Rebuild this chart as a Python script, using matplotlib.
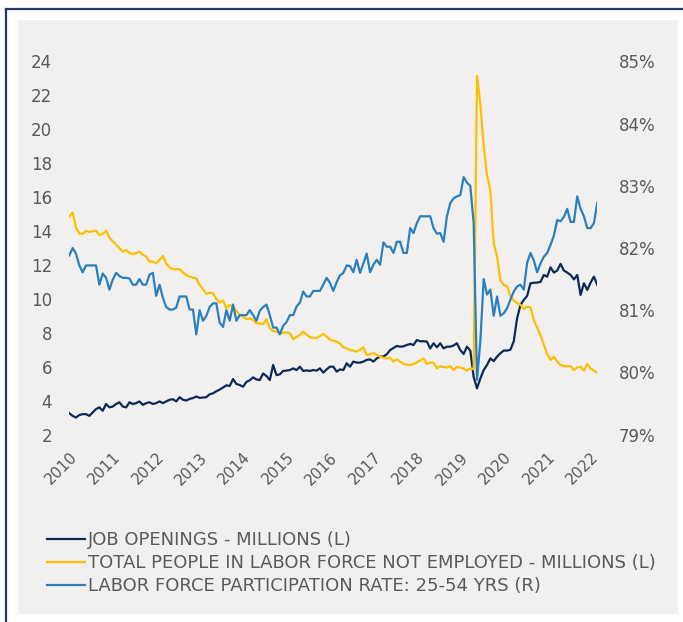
import numpy as np
import matplotlib
matplotlib.use("Agg")
import matplotlib.pyplot as plt
from matplotlib.patches import Rectangle
from matplotlib.lines import Line2D
import matplotlib.transforms as mtransforms

# monthly series, Jan 2010 onwards
job_openings = [
    3.25, 3.10, 3.00, 3.15, 3.20, 3.20, 3.10, 3.30, 3.50, 3.60, 3.40, 3.80, 3.60, 3.65, 3.80, 3.90,
    3.65, 3.60, 3.90, 3.80, 3.85, 3.95, 3.75, 3.85, 3.90, 3.80, 3.85, 3.95, 3.85, 3.95, 4.05, 4.08,
    3.95, 4.20, 4.05, 4.00, 4.10, 4.15, 4.24, 4.16, 4.18, 4.20, 4.37, 4.43, 4.55, 4.65, 4.77, 4.90,
    4.86, 5.27, 4.98, 4.92, 4.82, 5.10, 5.20, 5.37, 5.25, 5.21, 5.60, 5.45, 5.21, 6.10, 5.50, 5.55,
    5.75, 5.77, 5.80, 5.90, 5.80, 6.00, 5.75, 5.78, 5.75, 5.80, 5.77, 5.90, 5.65, 5.84, 6.00, 6.00,
    5.71, 5.84, 5.80, 6.20, 6.00, 6.30, 6.24, 6.24, 6.30, 6.40, 6.43, 6.30, 6.49, 6.59, 6.60, 6.73,
    6.98, 7.10, 7.22, 7.18, 7.20, 7.28, 7.34, 7.28, 7.57, 7.50, 7.50, 7.48, 7.08, 7.38, 7.14, 7.38,
    7.08, 7.18, 7.18, 7.25, 7.38, 6.98, 6.75, 7.18, 6.95, 5.40, 4.72, 5.30, 5.80, 6.10, 6.49, 6.33,
    6.59, 6.79, 6.95, 6.95, 7.00, 7.50, 8.85, 9.64, 9.94, 10.17, 10.92, 10.95, 10.96, 11.00, 11.41, 11.31,
    11.86, 11.55, 11.67, 12.06, 11.67, 11.55, 11.41, 11.15, 11.41, 10.23, 10.92, 10.53, 10.96, 11.31, 10.82,
]

not_employed = [
    14.85, 15.10, 14.20, 13.85, 13.83, 14.00, 13.95, 13.98, 14.02, 13.77, 13.83, 14.02, 13.60, 13.40, 13.20, 13.00,
    12.78, 12.88, 12.70, 12.65, 12.70, 12.78, 12.60, 12.49, 12.19, 12.19, 12.10, 12.29, 12.53, 12.10, 11.85, 11.75,
    11.75, 11.75, 11.55, 11.40, 11.31, 11.25, 11.21, 10.82, 10.55, 10.29, 10.37, 10.33, 10.00, 9.78, 9.90, 9.44,
    9.64, 9.54, 9.30, 9.05, 8.95, 8.80, 8.86, 8.75, 8.56, 8.55, 8.52, 8.80, 8.27, 8.10, 8.07, 7.97,
    8.00, 8.02, 7.97, 7.62, 7.75, 7.87, 8.07, 7.90, 7.74, 7.70, 7.68, 7.80, 7.93, 7.78, 7.60, 7.53,
    7.47, 7.37, 7.14, 7.08, 6.99, 6.95, 6.89, 7.00, 7.14, 6.69, 6.75, 6.79, 6.70, 6.59, 6.52, 6.49,
    6.53, 6.30, 6.43, 6.30, 6.16, 6.12, 6.10, 6.16, 6.25, 6.36, 6.49, 6.16, 6.24, 6.24, 5.90, 6.03,
    5.98, 5.95, 6.03, 5.80, 5.99, 5.95, 5.90, 5.76, 5.90, 5.85, 23.15, 21.50, 19.00, 17.30, 16.40, 13.30,
    12.50, 11.10, 10.82, 10.76, 10.15, 9.90, 9.75, 9.65, 9.40, 9.55, 9.50, 8.75, 8.30, 7.85, 7.30, 6.75,
    6.40, 6.59, 6.30, 6.10, 6.03, 6.03, 6.03, 5.80, 5.95, 6.00, 5.76, 6.16, 5.90, 5.75, 5.65,
]

participation = [
    81.88, 82.00, 81.91, 81.72, 81.61, 81.72, 81.72, 81.72, 81.72, 81.41, 81.59, 81.52, 81.33, 81.49, 81.60, 81.55,
    81.52, 81.52, 81.51, 81.41, 81.41, 81.50, 81.41, 81.41, 81.57, 81.60, 81.23, 81.41, 81.20, 81.05, 81.01, 81.01,
    81.04, 81.22, 81.22, 81.22, 81.01, 81.01, 80.61, 81.00, 80.83, 80.91, 81.05, 81.11, 81.11, 80.80, 80.73, 81.00,
    80.83, 81.09, 80.83, 80.92, 80.92, 80.92, 81.00, 80.92, 80.83, 80.99, 81.05, 81.09, 80.92, 80.72, 80.72, 80.61,
    80.75, 80.81, 80.92, 80.92, 81.06, 81.12, 81.30, 81.22, 81.22, 81.31, 81.31, 81.31, 81.41, 81.52, 81.44, 81.31,
    81.45, 81.56, 81.60, 81.72, 81.71, 81.61, 81.81, 81.60, 81.75, 81.91, 81.61, 81.73, 81.81, 81.73, 82.09, 82.02,
    82.02, 81.92, 82.10, 82.10, 81.92, 81.92, 82.32, 82.24, 82.40, 82.51, 82.51, 82.51, 82.51, 82.32, 82.23, 82.24,
    82.10, 82.51, 82.72, 82.80, 82.83, 82.85, 83.14, 83.05, 83.00, 82.40, 79.88, 80.50, 81.50, 81.25, 81.33, 80.91,
    81.22, 80.91, 80.95, 81.03, 81.17, 81.30, 81.38, 81.41, 81.33, 81.76, 81.92, 81.80, 81.61, 81.75, 81.86, 81.92,
    82.05, 82.20, 82.45, 82.43, 82.50, 82.63, 82.42, 82.42, 82.83, 82.63, 82.51, 82.32, 82.32, 82.40, 82.73,
]

year_labels = [str(y) for y in range(2010, 2023)]
left_ticks = list(range(2, 25, 2))
right_ticks = list(range(79, 86))

labels = [
    "JOB OPENINGS - MILLIONS (L)",
    "TOTAL PEOPLE IN LABOR FORCE NOT EMPLOYED - MILLIONS (L)",
    "LABOR FORCE PARTICIPATION RATE: 25-54 YRS (R)",
]

NAVY = "#0c2a58"
GOLD = "#ffbf00"
BLUE = "#2a80bf"
GREY_TXT = "#5a5a5a"
BG = "#f1f0ef"

plt.rcParams["font.family"] = ["DejaVu Sans"]

W, H = 683, 622
fig = plt.figure(figsize=(W / 100, H / 100), dpi=100)
fig.patch.set_facecolor("white")

# grey panel and the navy frame
fig.patches.append(Rectangle((18 / W, 1 - 614 / H), 660 / W, 594 / H,
                             transform=fig.transFigure, facecolor=BG, edgecolor="none", zorder=-5))
fig.lines.append(Line2D([6 / W, 6 / W], [0, 1 - 9 / H], transform=fig.transFigure,
                        color="#1d3a68", lw=1.6, zorder=-5))
fig.lines.append(Line2D([6 / W, 1], [1 - 9 / H, 1 - 9 / H], transform=fig.transFigure,
                        color="#1d3a68", lw=1.6, zorder=-5))

x = np.arange(len(job_openings))
ax = fig.add_axes([69.3 / W, 1 - 434.5 / H, 528 / W, 373 / H])
ax.set_facecolor("none")
ax2 = ax.twinx()

l1, = ax.plot(x, job_openings, color=NAVY, lw=1.6)
l2, = ax.plot(x, not_employed, color=GOLD, lw=1.6)
l3, = ax2.plot(x, participation, color=BLUE, lw=1.6)

ax.set_xlim(0, len(x) - 1)
ax.set_ylim(2, 24)
ax2.set_ylim(79, 85)
ax.set_yticks(left_ticks)
ax2.set_yticks(right_ticks)
ax2.set_yticklabels([f"{v}%" for v in right_ticks])

tick_idx = np.arange(0, 13 * len(year_labels), 13)
ax.set_xticks(tick_idx)
ax.set_xticklabels(year_labels, rotation=45, ha="right", va="top", rotation_mode="anchor",
                   fontsize=11)
shift = mtransforms.ScaledTranslation(3 / 100, 0, fig.dpi_scale_trans)
for t in ax.get_xticklabels():
    t.set_transform(t.get_transform() + shift)

for a in (ax, ax2):
    for s in a.spines.values():
        s.set_visible(False)
    a.tick_params(length=0, colors=GREY_TXT)
ax.tick_params(axis="y", pad=12.5, labelsize=12)
ax2.tick_params(axis="y", pad=15.5, labelsize=12)
ax.tick_params(axis="x", pad=11)

fig.legend([l1, l2, l3], labels, loc="upper left", bbox_to_anchor=(47 / W, 1 - 531 / H),
           frameon=False, fontsize=13, labelcolor=GREY_TXT, handlelength=2.1,
           handletextpad=0.15, labelspacing=0.28, borderaxespad=0, borderpad=0)

fig.savefig("out.png", dpi=100)
